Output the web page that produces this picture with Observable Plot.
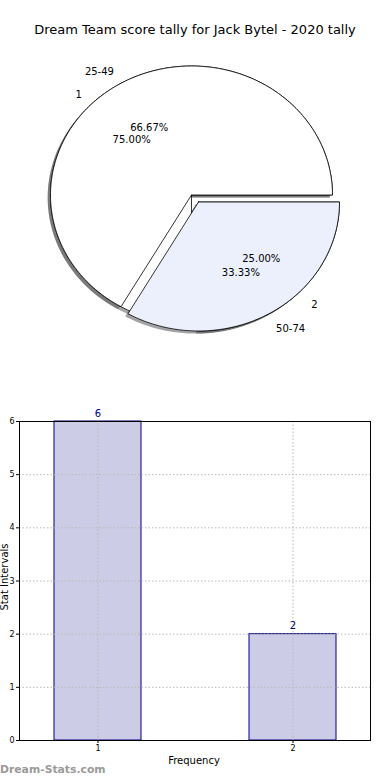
<!DOCTYPE html>
<html><head><meta charset="utf-8">
<script src="https://cdn.jsdelivr.net/npm/d3@7"></script>
<script src="https://cdn.jsdelivr.net/npm/@observablehq/plot@0.6"></script>
<style>
body{margin:0;background:#fff;font-family:"DejaVu Sans",sans-serif;}
#wrap{position:relative;width:390px;height:780px;overflow:hidden;background:#fff;}
.abs{position:absolute;white-space:nowrap;}
</style></head><body><div id="wrap"></div>
<script>
const chartTitle = "Dream Team score tally for Jack Bytel - 2020 tally";
const tallyLabels = ["1", "2"];
const tallyValues = [6, 2];
const rangeLabels = ["25-49", "50-74"];
const rangeValues = [2, 1];
const barCategories = [1, 2];
const barValues = [6, 2];
const yTicks = [0, 1, 2, 3, 4, 5, 6];
const xLabel = "Frequency";
const yLabel = "Stat Intervals";
const watermark = "Dream-Stats.com";

const sliceColors = ["#ffffff", "#ebf0fc"];
const wrap = document.getElementById("wrap");

function pieSlices(values, labels, name) {
  const total = d3.sum(values);
  let acc = 0;
  return values.map((v, i) => {
    const a0 = acc / total * 2 * Math.PI; acc += v; const a1 = acc / total * 2 * Math.PI;
    return {name, i, label: labels[i], pct: (v / total * 100).toFixed(2) + "%", a0, a1, mid: (a0 + a1) / 2, explode: i === 1 ? 0.1 : 0};
  });
}
function wedgePoints(s) {
  const n = Math.max(2, Math.ceil((s.a1 - s.a0) / (Math.PI / 180)));
  const pts = [{x: 0, y: 0}];
  for (let k = 0; k <= n; k++) {
    const a = s.a0 + (s.a1 - s.a0) * k / n;
    pts.push({x: Math.cos(a), y: Math.sin(a)});
  }
  pts.push({x: 0, y: 0});
  return pts;
}
const A = pieSlices(tallyValues, tallyLabels, "A");
const B = pieSlices(rangeValues, rangeLabels, "B");
const all = [...A, ...B];

const shadowMarks = all.map(s => Plot.line(wedgePoints(s), {
  x: "x", y: "y", curve: "linear", stroke: "none",
  fill: s.i === 0 ? "#4d4d4d" : "#46484c", fillOpacity: 0.5,
  dx: (s.i === 1 ? 7 : 0) - 2.8, dy: (s.i === 1 ? 7 : 0) + 2.6
}));
const wedgeMarks = all.map(s => Plot.line(wedgePoints(s), {
  x: "x", y: "y", curve: "linear", fill: sliceColors[s.i], stroke: "black", strokeWidth: 0.8,
  strokeLinejoin: "miter",
  dx: s.i === 1 ? 7 : 0, dy: s.i === 1 ? 7 : 0
}));
const labelData = all.map(s => {
  const r = 1.1 + s.explode;
  return {x: r * Math.cos(s.mid), y: r * Math.sin(s.mid), text: s.label};
});
const pctData = all.map(s => {
  const r = 0.6 + s.explode;
  return {x: r * Math.cos(s.mid), y: r * Math.sin(s.mid), text: s.pct};
});

const pie = Plot.plot({
  width: 390, height: 380, margin: 0,
  style: {fontFamily: "DejaVu Sans", background: "transparent"},
  x: {domain: [-1, 1], range: [50, 332], axis: null},
  y: {domain: [-1, 1], range: [323.5, 65.5], axis: null},
  marks: [
    ...shadowMarks,
    ...wedgeMarks,
    Plot.text(labelData.filter(d => d.x < 0), {x: "x", y: "y", text: "text", textAnchor: "end", fontSize: 10, fill: "black"}),
    Plot.text(labelData.filter(d => d.x >= 0), {x: "x", y: "y", text: "text", textAnchor: "start", fontSize: 10, fill: "black"}),
    Plot.text(pctData, {x: "x", y: "y", text: "text", textAnchor: "middle", fontSize: 10, fill: "black"})
  ]
});
pie.style.position = "absolute"; pie.style.left = "0px"; pie.style.top = "0px";
wrap.appendChild(pie);

const bars = barCategories.map((c, i) => ({c, v: barValues[i]}));
const gridStyle = {stroke: "#b8b8b8", strokeOpacity: 1, strokeWidth: 1, strokeDasharray: "1.5,2"};
const bar = Plot.plot({
  width: 390, height: 390, marginTop: 31, marginBottom: 40, marginLeft: 19, marginRight: 20,
  style: {fontFamily: "DejaVu Sans", background: "transparent"},
  x: {type: "band", domain: barCategories, paddingInner: 0.554, paddingOuter: 0.177},
  y: {domain: [0, 6]},
  marks: [
    Plot.barY(bars, {x: "c", y: "v", fill: "#ccccE6", stroke: "#000080", strokeWidth: 1}),
    Plot.gridY(yTicks, gridStyle),
    Plot.gridX(barCategories, gridStyle),
    Plot.frame({stroke: "black", strokeWidth: 1}),
    Plot.axisY(yTicks, {tickSize: 3, fontSize: 8, tickPadding: 2, label: null, tickFormat: d => String(d)}),
    Plot.axisX(barCategories, {tickSize: 3, fontSize: 8, tickPadding: 2, label: null, tickFormat: d => String(d)}),
    Plot.text(bars, {x: "c", y: "v", text: d => String(d.v), dy: -8, fill: "#000080", fontSize: 10})
  ]
});
bar.style.position = "absolute"; bar.style.left = "0px"; bar.style.top = "390px";
wrap.appendChild(bar);

function addText(txt, css) {
  const d = document.createElement("div");
  d.className = "abs"; d.textContent = txt;
  Object.assign(d.style, css);
  wrap.appendChild(d);
  return d;
}
addText(chartTitle, {left: "0px", width: "390px", top: "22px", textAlign: "center", fontSize: "13px", color: "#000", lineHeight: "16px"});
addText(xLabel, {left: "0px", width: "390px", top: "754px", textAlign: "center", fontSize: "10px", color: "#000", lineHeight: "14px", transform: "translateX(-1px)"});
addText(yLabel, {left: "5px", top: "577px", fontSize: "10px", color: "#000", lineHeight: "10px", transform: "translate(-50%,-50%) rotate(-90deg)"});
addText(watermark, {left: "0px", top: "763px", fontSize: "10.8px", fontWeight: "bold", color: "#9a9a9a", lineHeight: "14px"});
</script></body></html>
